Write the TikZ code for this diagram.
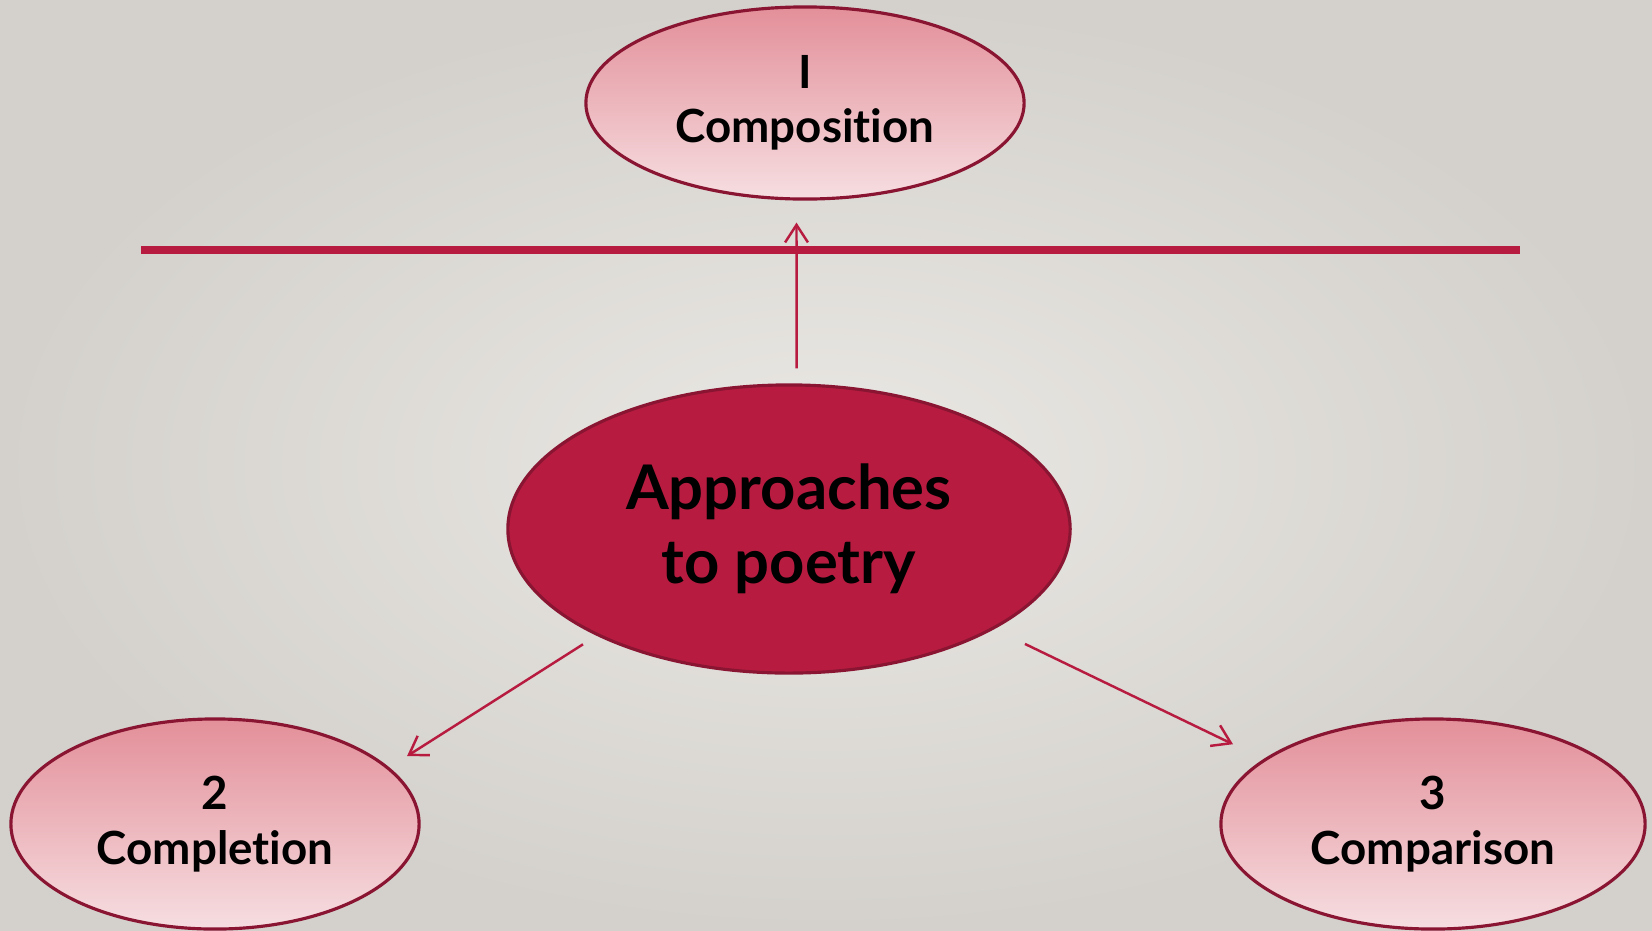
\documentclass[tikz,border=0pt]{standalone}
\usepackage{fontspec}
\setmainfont{Lato}[Ligatures={NoCommon}]
\usetikzlibrary{shapes.geometric,arrows.meta}
\definecolor{crimson}{HTML}{B71C40}
\definecolor{darkrim}{HTML}{8A1532}
\definecolor{pinktop}{HTML}{E38F99}
\definecolor{pinkbot}{HTML}{F6DEE1}
\definecolor{bglight}{HTML}{EAE8E4}
\definecolor{bgdark}{HTML}{D4D1CC}
\begin{document}
\begin{tikzpicture}[x=0.01cm,y=-0.01cm,
	hub/.style={ellipse, draw=darkrim, line width=0.9pt, fill=crimson, inner sep=0pt, align=center, font=\fontsize{17.5}{21}\selectfont\bfseries},
	branch/.style={ellipse, draw=darkrim, line width=0.9pt, top color=pinktop, bottom color=pinkbot, inner sep=0pt, align=center, font=\fontsize{13}{15.5}\selectfont\bfseries},
	link/.style={crimson, line width=0.7pt, -{Straight Barb[length=5pt,width=6.5pt]}}]
	\shade[inner color=bglight, outer color=bgdark] (0,0) rectangle (1652,930);
	\useasboundingbox (0,0) rectangle (1652,930);

	% the rule under the top ellipse
	\coordinate (ruleL) at (141,250);
	\coordinate (ruleR) at (1520,250);
	\draw[crimson, line width=2pt] (ruleL) -- (ruleR);

	\node[hub, minimum width=5.62cm, minimum height=2.88cm] (poetry) at (789,529) {Approaches\\to poetry};
	\node[branch, minimum width=4.38cm, minimum height=1.92cm] (composition) at (805,103) {I\\Composition};
	\node[branch, minimum width=4.08cm, minimum height=2.10cm] (completion) at (215,824) {2\\Completion};
	\node[branch, minimum width=4.24cm, minimum height=2.10cm] (comparison) at (1433,824) {3\\Comparison};

	\draw[link, shorten <=0.15cm, shorten >=0.22cm] (poetry.87) -- (composition.265);
	\draw[link, shorten <=0.16cm, shorten >=0.21cm] (poetry.209) -- (completion.18);
	\draw[link, shorten <=0.34cm, shorten >=0.34cm] (poetry.334) -- (comparison.159);
\end{tikzpicture}
\end{document}
